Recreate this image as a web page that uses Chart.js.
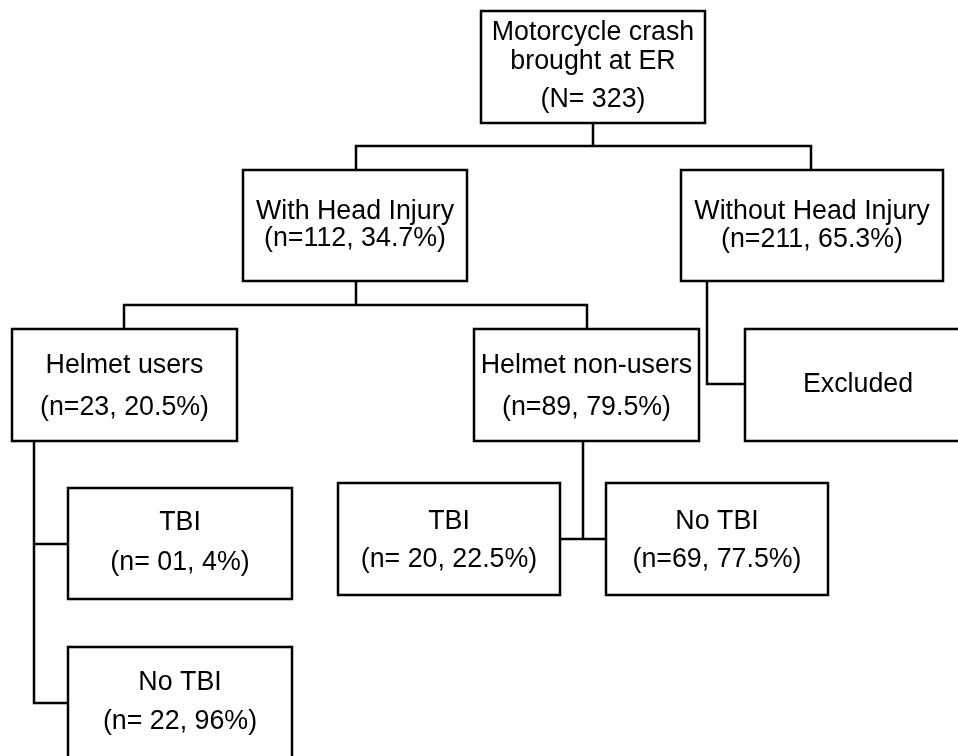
<!DOCTYPE html>
<html>
<head>
<meta charset="utf-8">
<script src="https://cdn.jsdelivr.net/npm/chart.js@4"></script>
<style>
  html, body { margin: 0; padding: 0; background: #fff; }
  canvas { display: block; }
</style>
</head>
<body>
<canvas id="flowChart" width="958" height="756"></canvas>
<script>
// Node texts of the flow diagram
const nodeTitles = [
    ['Motorcycle crash', 'brought at ER'],
    ['With Head Injury'],
    ['Without Head Injury'],
    ['Helmet users'],
    ['Helmet non-users'],
    ['Excluded'],
    ['TBI'],
    ['No TBI'],
    ['TBI'],
    ['No TBI']
];
const nodeCounts = ['(N= 323)', '(n=112, 34.7%)', '(n=211, 65.3%)', '(n=23, 20.5%)', '(n=89, 79.5%)',
    '', '(n= 01, 4%)', '(n= 22, 96%)', '(n= 20, 22.5%)', '(n=69, 77.5%)'];

// Layout (in axis units, 0..958 by 0..756): box edges and text line centres
const boxes = [
    { x0: 481, y0: 11, x1: 705, y1: 123, lines: [33, 62, 100] },
    { x0: 243, y0: 170, x1: 467, y1: 281, lines: [212, 239] },
    { x0: 681, y0: 170, x1: 943, y1: 281, lines: [212, 240] },
    { x0: 12, y0: 329, x1: 237, y1: 441, lines: [366, 408] },
    { x0: 474, y0: 329, x1: 699, y1: 441, lines: [366, 408] },
    { x0: 745, y0: 329, x1: 971, y1: 441, lines: [385] },
    { x0: 68, y0: 488, x1: 292, y1: 599, lines: [523, 563] },
    { x0: 68, y0: 647, x1: 292, y1: 762, lines: [683, 722] },
    { x0: 338, y0: 483, x1: 560, y1: 595, lines: [522, 560] },
    { x0: 606, y0: 483, x1: 828, y1: 595, lines: [522, 560] }
];

const connectors = [
    [[593, 123], [593, 146]],
    [[356, 170], [356, 146], [811, 146], [811, 170]],
    [[356, 281], [356, 305]],
    [[124, 329], [124, 305], [587, 305], [587, 329]],
    [[707, 281], [707, 384], [745, 384]],
    [[34, 441], [34, 703], [68, 703]],
    [[34, 544], [68, 544]],
    [[583, 441], [583, 539]],
    [[560, 539], [606, 539]]
];

const lineStyle = {
    showLine: true,
    borderColor: '#000',
    borderWidth: 2.5,
    pointRadius: 0,
    fill: false,
    tension: 0,
    borderJoinStyle: 'miter',
    borderCapStyle: 'square'
};

const datasets = [];
boxes.forEach(function (b) {
    datasets.push(Object.assign({
        data: [
            { x: b.x0, y: b.y0 }, { x: b.x1, y: b.y0 }, { x: b.x1, y: b.y1 },
            { x: b.x0, y: b.y1 }, { x: b.x0, y: b.y0 }
        ]
    }, lineStyle));
});
connectors.forEach(function (c) {
    datasets.push(Object.assign({
        data: c.map(function (p) { return { x: p[0], y: p[1] }; })
    }, lineStyle, { borderCapStyle: 'butt' }));
});

// Draw the node texts through the scales
const nodeText = {
    id: 'nodeText',
    afterDatasetsDraw(chart) {
        const c = chart.ctx;
        const xs = chart.scales.x;
        const ys = chart.scales.y;
        c.save();
        c.fillStyle = '#000';
        c.font = '26.8px "Liberation Sans", Arial, sans-serif';
        c.textAlign = 'center';
        c.textBaseline = 'middle';
        boxes.forEach(function (b, i) {
            const texts = nodeTitles[i].slice();
            if (nodeCounts[i]) texts.push(nodeCounts[i]);
            const cx = xs.getPixelForValue((b.x0 + b.x1) / 2);
            texts.forEach(function (t, k) {
                c.fillText(t, cx, ys.getPixelForValue(b.lines[k]));
            });
        });
        c.restore();
    }
};

const flowChart = new Chart(document.getElementById('flowChart').getContext('2d'), {
    type: 'scatter',
    data: { datasets: datasets },
    options: {
        responsive: false,
        animation: false,
        layout: { padding: 0 },
        plugins: {
            legend: { display: false },
            tooltip: { enabled: false }
        },
        scales: {
            x: { type: 'linear', min: 0, max: 958, display: false },
            y: { type: 'linear', min: 0, max: 756, reverse: true, display: false }
        }
    },
    plugins: [nodeText]
});
</script>
</body>
</html>
